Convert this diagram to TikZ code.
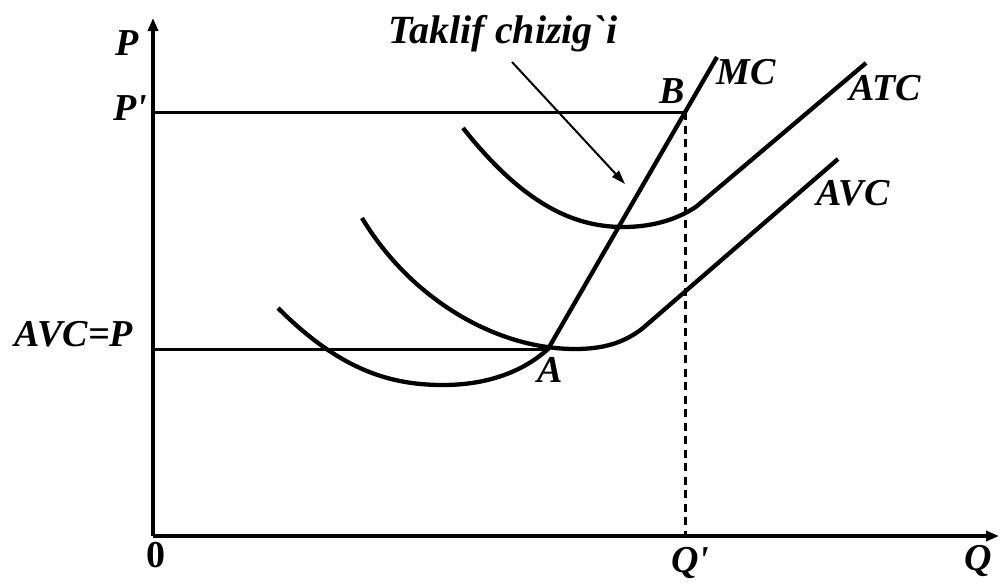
\documentclass[tikz,border=0pt]{standalone}
\usepackage{fontspec}
\newfontfamily\labfont{Liberation Serif}
\usetikzlibrary{arrows.meta}
\begin{document}
\begin{tikzpicture}[x=1pt,y=-1pt,
  lab/.style={font=\labfont\bfseries\itshape\fontsize{38}{38}\selectfont, inner sep=0pt},
  uplab/.style={font=\labfont\bfseries\fontsize{38}{38}\selectfont, inner sep=0pt},
  biglab/.style={font=\labfont\bfseries\itshape\fontsize{40}{40}\selectfont, inner sep=0pt},
  axis/.style={line width=3.2pt, -{Triangle[length=13pt,width=10pt]}},
  curve/.style={line width=4.3pt},
  guide/.style={line width=3pt},
  dashguide/.style={line width=3pt, dash pattern=on 8pt off 5.5pt}]
\useasboundingbox (0,0) rectangle (1000,584);
\fill[white] (0,0) rectangle (1000,584);
% points
\coordinate (O) at (153,536);
\coordinate (Ytop) at (153,18);
\coordinate (Xend) at (999,536);
\coordinate (Pp) at (153,112);
\coordinate (B) at (685,112);
\coordinate (Qp) at (685,536);
\coordinate (Pa) at (153,349);
\coordinate (A) at (548,349);
\coordinate (MCtop) at (717,57);
\coordinate (ar1) at (512,62);
\coordinate (ar2) at (625,184);
% guide lines
\draw[guide] (Pp) -- (B);
\draw[guide] (Pa) -- (A);
\draw[dashguide] (B) -- (Qp);
% axes
\draw[axis] (O) -- (Ytop);
\draw[axis] (O) -- (Xend);
% MC
\draw[curve] (278,308) .. controls (340,370) and (390,385) .. (443,385)
  .. controls (490,385) and (525,370) .. (A) -- (MCtop);
% AVC
\draw[curve] (362,218) .. controls (410,298) and (495,349) .. (575,349)
  .. controls (603,349) and (624,343) .. (643,328) -- (838,159);
% ATC
\draw[curve] (463,128) .. controls (520,200) and (570,227) .. (623,227)
  .. controls (655,227) and (680,218) .. (697,206) -- (866,63);
% arrow
\draw[line width=2pt, -{Triangle[length=14pt,width=9pt]}] (ar1) -- (ar2);
% labels
\node[lab] (lP) at (127,43) {P};
\node[lab] (lPp) at (130,108) {P'};
\node[lab] (lAVCP) at (74,334) {AVC=P};
\node[uplab] (l0) at (156,555) {0};
\node[lab, anchor=base] (lQp) at (690,572) {Q'};
\node[lab] (lQ) at (978,561) {Q};
\node[lab] (lA) at (550,370) {A};
\node[lab] (lB) at (672,91) {B};
\node[lab] (lMC) at (746,72) {MC};
\node[lab] (lATC) at (885,88) {ATC};
\node[lab] (lAVC) at (853,193) {AVC};
\node[biglab, anchor=base] (lT) at (503,43) {Taklif chizig`i};
\end{tikzpicture}
\end{document}
